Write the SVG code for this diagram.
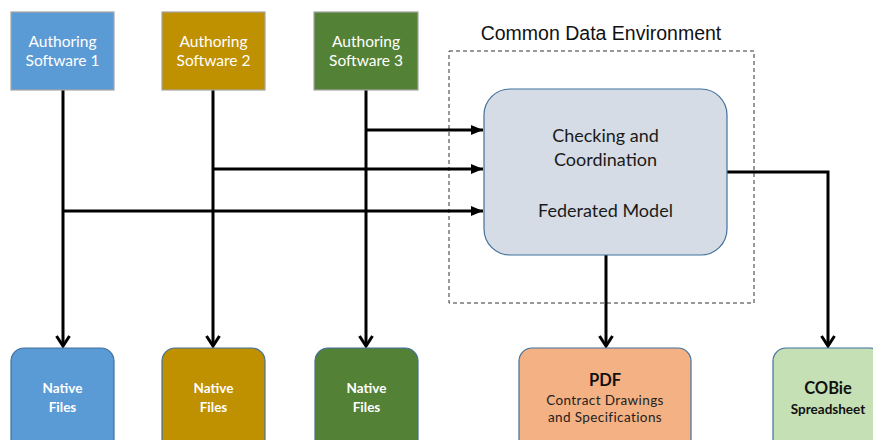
<svg xmlns="http://www.w3.org/2000/svg" width="873" height="440" viewBox="0 0 873 440">
  <style>
    .src { stroke: #A5A5A5; stroke-width: 1.2; }
    .out { stroke: #41719C; stroke-width: 1.2; }
    .lbl { font-family: Lato, "Open Sans", "Liberation Sans", sans-serif; text-anchor: middle; }
    .wht { fill: #FFFFFF; font-size: 15.5px; }
    .nat { fill: #FFFFFF; font-size: 13.5px; font-weight: bold; }
    .blk { fill: #1A1A1A; font-size: 18px; }
    .wire { fill: none; stroke: #000000; stroke-width: 3; }
  </style>
  <defs>
    <marker id="tri" markerUnits="userSpaceOnUse" viewBox="0 0 12 10" refX="12" refY="5" markerWidth="12" markerHeight="10" orient="auto">
      <path d="M0,0 L12,5 L0,10 Z" fill="#000000"/>
    </marker>
    <marker id="vee" markerUnits="userSpaceOnUse" viewBox="0 0 14 16" refX="12" refY="8" markerWidth="14" markerHeight="16" orient="auto">
      <path d="M2,1.5 L12,8 L2,14.5" fill="none" stroke="#000000" stroke-width="3"/>
    </marker>
  </defs>

  <rect width="873" height="440" fill="#FFFFFF"/>

  <!-- Common Data Environment boundary -->
  <g id="cde">
    <rect x="449" y="51" width="305" height="252" fill="none" stroke="#333333" stroke-width="1" stroke-dasharray="4,3"/>
    <text x="601" y="40" font-family="'Liberation Sans', Arial, sans-serif" font-size="19.5" fill="#111111" text-anchor="middle">Common Data Environment</text>
  </g>

  <!-- connectors -->
  <g id="connectors">
    <path class="wire" d="M63,90 V346" marker-end="url(#vee)"/>
    <path class="wire" d="M213,90 V346" marker-end="url(#vee)"/>
    <path class="wire" d="M366,90 V346" marker-end="url(#vee)"/>
    <path class="wire" d="M366,130 H483" marker-end="url(#tri)"/>
    <path class="wire" d="M213,169 H483" marker-end="url(#tri)"/>
    <path class="wire" d="M63,211 H483" marker-end="url(#tri)"/>
    <path class="wire" d="M606,255 V346" marker-end="url(#vee)"/>
    <path class="wire" d="M727,172 H828 V346" marker-end="url(#vee)"/>
  </g>

  <!-- authoring tools -->
  <g id="auth1">
    <rect class="src" x="11" y="12" width="103" height="78" fill="#5B9BD5"/>
    <text class="lbl wht" x="62.5" y="47">Authoring</text>
    <text class="lbl wht" x="62.5" y="66">Software 1</text>
  </g>
  <g id="auth2">
    <rect class="src" x="162" y="12" width="103" height="78" fill="#BF9000"/>
    <text class="lbl wht" x="213.5" y="47">Authoring</text>
    <text class="lbl wht" x="213.5" y="66">Software 2</text>
  </g>
  <g id="auth3">
    <rect class="src" x="314" y="12" width="104" height="78" fill="#538135"/>
    <text class="lbl wht" x="366" y="47">Authoring</text>
    <text class="lbl wht" x="366" y="66">Software 3</text>
  </g>

  <!-- federated model -->
  <g id="federated">
    <rect x="484" y="89" width="243" height="166" rx="26" ry="26" fill="#D6DCE5" stroke="#41719C" stroke-width="1.2"/>
    <text class="lbl blk" x="605.5" y="142">Checking and</text>
    <text class="lbl blk" x="605.5" y="166">Coordination</text>
    <text class="lbl blk" x="605.5" y="217">Federated Model</text>
  </g>

  <!-- outputs -->
  <g id="native1">
    <rect class="out" x="11" y="348" width="103" height="110" rx="13" ry="13" fill="#5B9BD5"/>
    <text class="lbl nat" x="62.5" y="393">Native</text>
    <text class="lbl nat" x="62.5" y="412">Files</text>
  </g>
  <g id="native2">
    <rect class="out" x="162" y="348" width="103" height="110" rx="13" ry="13" fill="#BF9000"/>
    <text class="lbl nat" x="213.5" y="393">Native</text>
    <text class="lbl nat" x="213.5" y="412">Files</text>
  </g>
  <g id="native3">
    <rect class="out" x="315" y="348" width="103" height="110" rx="13" ry="13" fill="#538135"/>
    <text class="lbl nat" x="366.5" y="393">Native</text>
    <text class="lbl nat" x="366.5" y="412">Files</text>
  </g>
  <g id="pdf">
    <rect class="out" x="519" y="348" width="172" height="110" rx="13" ry="13" fill="#F4B183"/>
    <text class="lbl" x="605" y="386" font-size="16.5" font-weight="bold" fill="#111111">PDF</text>
    <text class="lbl" x="605" y="405" font-size="13.5" letter-spacing="0.4" fill="#222222">Contract Drawings</text>
    <text class="lbl" x="605" y="422" font-size="13.5" letter-spacing="0.4" fill="#222222">and Specifications</text>
  </g>
  <g id="cobie">
    <rect class="out" x="773" y="348" width="110" height="110" rx="13" ry="13" fill="#C5E0B4"/>
    <text class="lbl" x="828" y="394" font-size="16.5" font-weight="bold" fill="#111111">COBie</text>
    <text class="lbl" x="828" y="414" font-size="13.5" font-weight="bold" fill="#111111">Spreadsheet</text>
  </g>
</svg>
